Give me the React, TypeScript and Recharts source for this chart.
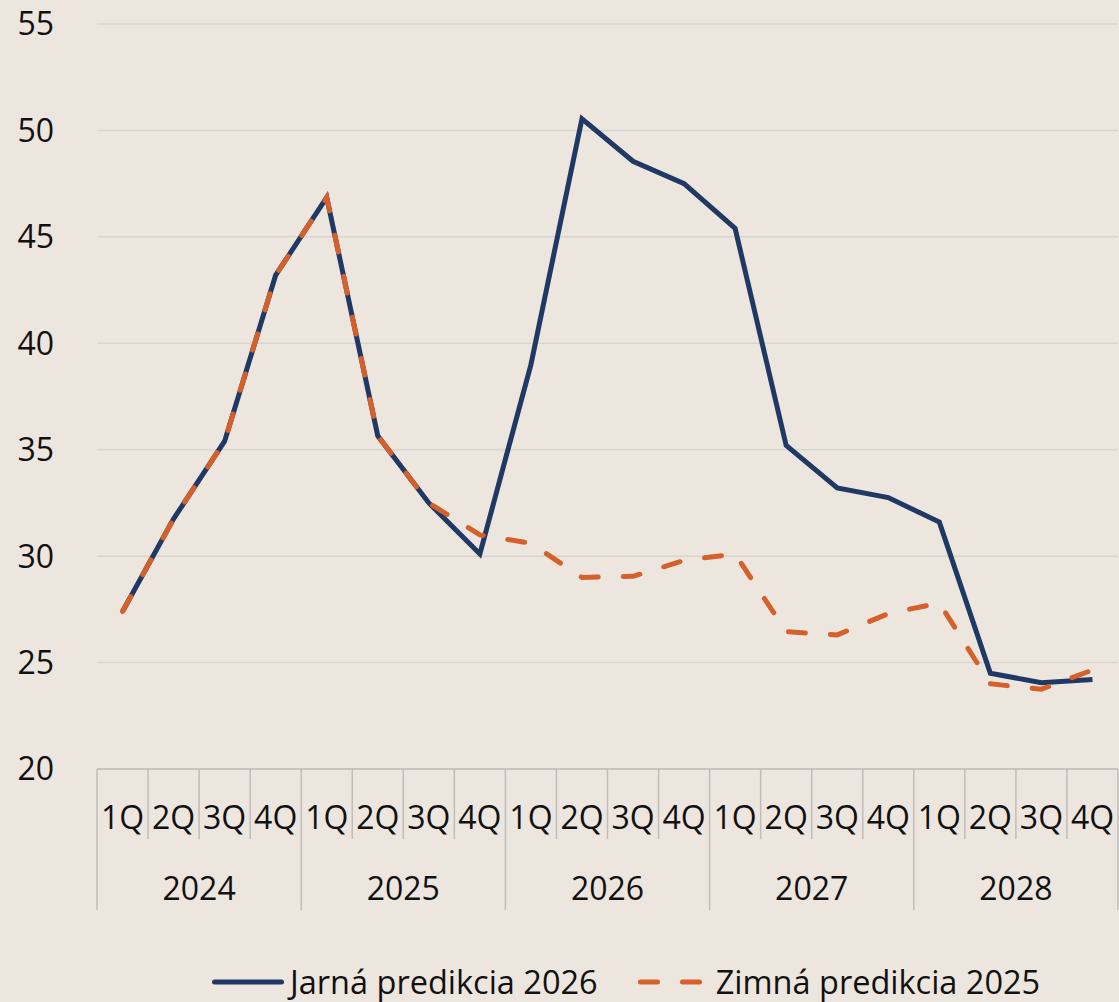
import React from "react";
import { LineChart, Line, XAxis, YAxis, CartesianGrid } from "recharts";

const quarterLabels = ["1Q", "2Q", "3Q", "4Q"];
const years = ["2024", "2025", "2026", "2027", "2028"];

// Jarná predikcia 2026
const jarna = [
  27.4, 31.75, 35.4, 43.2, 46.85, 35.65, 32.5, 30.1,
  39.0, 50.55, 48.55, 47.5, 45.4, 35.2, 33.2, 32.75,
  31.6, 24.5, 24.05, 24.2,
];

// Zimná predikcia 2025
const zimna = [
  27.4, 31.75, 35.4, 43.2, 46.85, 35.65, 32.5, 31.0,
  30.6, 29.0, 29.05, 29.8, 30.1, 26.45, 26.3, 27.3,
  27.8, 24.0, 23.75, 24.65,
];

const yTicks = [20, 25, 30, 35, 40, 45, 50, 55];

const series = [
  { key: "jarna", name: "Jarná predikcia 2026", color: "#1f3864", dash: undefined as string | undefined },
  { key: "zimna", name: "Zimná predikcia 2025", color: "#d6602a", dash: "17 25" },
];

const data = jarna.map((v, i) => ({
  id: `${quarterLabels[i % 4]} ${years[Math.floor(i / 4)]}`,
  q: quarterLabels[i % 4],
  year: years[Math.floor(i / 4)],
  jarna: v,
  zimna: zimna[i],
}));

const W = 1119;
const H = 1002;
const M = { top: 24, right: 1, bottom: 88, left: 0 };
const Y_AXIS_W = 97;
const X_AXIS_H = 145;
const BAND = (W - M.left - M.right - Y_AXIS_W) / data.length;
const FONT = "'Open Sans', 'Noto Sans', sans-serif";
const AXIS_GRAY = "#bfbcb9";

function QuarterTick(props: any) {
  const { x, y, payload } = props;
  const i = payload.index;
  const half = BAND / 2;
  const row = data[i];
  return (
    <g>
      <line
        x1={x - half}
        x2={x - half}
        y1={y}
        y2={y + (i % 4 === 0 ? 141 : 70)}
        stroke={AXIS_GRAY}
        strokeWidth={1.5}
      />
      {i === data.length - 1 && (
        <line x1={x + half} x2={x + half} y1={y} y2={y + 141} stroke={AXIS_GRAY} strokeWidth={1.5} />
      )}
      <text x={x} y={y + 60} textAnchor="middle" fontSize={32} fontFamily={FONT} fill="#111">
        {row.q}
      </text>
      {i % 4 === 1 && (
        <text x={x + half} y={y + 131} textAnchor="middle" fontSize={32} fontFamily={FONT} fill="#111">
          {row.year}
        </text>
      )}
    </g>
  );
}

function LegendRow() {
  return (
    <div
      style={{
        position: "absolute",
        top: 960,
        left: 212,
        height: 44,
        display: "flex",
        alignItems: "center",
        fontFamily: FONT,
        fontSize: 32.5,
        color: "#111",
        whiteSpace: "nowrap",
        lineHeight: "44px",
      }}
    >
      {series.map((s, idx) => (
        <div key={s.key} style={{ display: "flex", alignItems: "center", marginLeft: idx === 0 ? 0 : 40 }}>
          <svg width={72} height={10} style={{ marginRight: 6, display: "block" }}>
            <line
              x1={2.5}
              x2={69.5}
              y1={5}
              y2={5}
              stroke={s.color}
              strokeWidth={5}
              strokeLinecap="round"
              strokeDasharray={s.dash}
            />
          </svg>
          <span style={{ display: "block" }}>{s.name}</span>
        </div>
      ))}
    </div>
  );
}

export default function App() {
  return (
    <div style={{ position: "relative", width: W, height: H, background: "#ede6df" }}>
      <style>{"body{margin:0;}"}</style>
      <LineChart width={W} height={H} data={data} margin={M}>
        <CartesianGrid horizontal vertical={false} stroke="#d8d5d1" strokeWidth={1.5} />
        <XAxis
          dataKey="id"
          interval={0}
          height={X_AXIS_H}
          padding={{ left: BAND / 2, right: BAND / 2 }}
          tickLine={false}
          tickSize={0}
          tickMargin={0}
          axisLine={{ stroke: AXIS_GRAY, strokeWidth: 1.5 }}
          tick={<QuarterTick />}
        />
        <YAxis
          domain={[20, 55]}
          ticks={yTicks}
          width={Y_AXIS_W}
          axisLine={false}
          tickLine={false}
          tickSize={0}
          tickMargin={43}
          tick={{ fill: "#111", fontSize: 32, fontFamily: FONT }}
        />
        {series.map((s) => (
          <Line
            key={s.key}
            type="linear"
            dataKey={s.key}
            name={s.name}
            stroke={s.color}
            strokeWidth={5}
            strokeDasharray={s.dash}
            strokeLinecap={s.dash ? "round" : "butt"}
            dot={false}
            activeDot={false}
            isAnimationActive={false}
          />
        ))}
      </LineChart>
      <LegendRow />
    </div>
  );
}
